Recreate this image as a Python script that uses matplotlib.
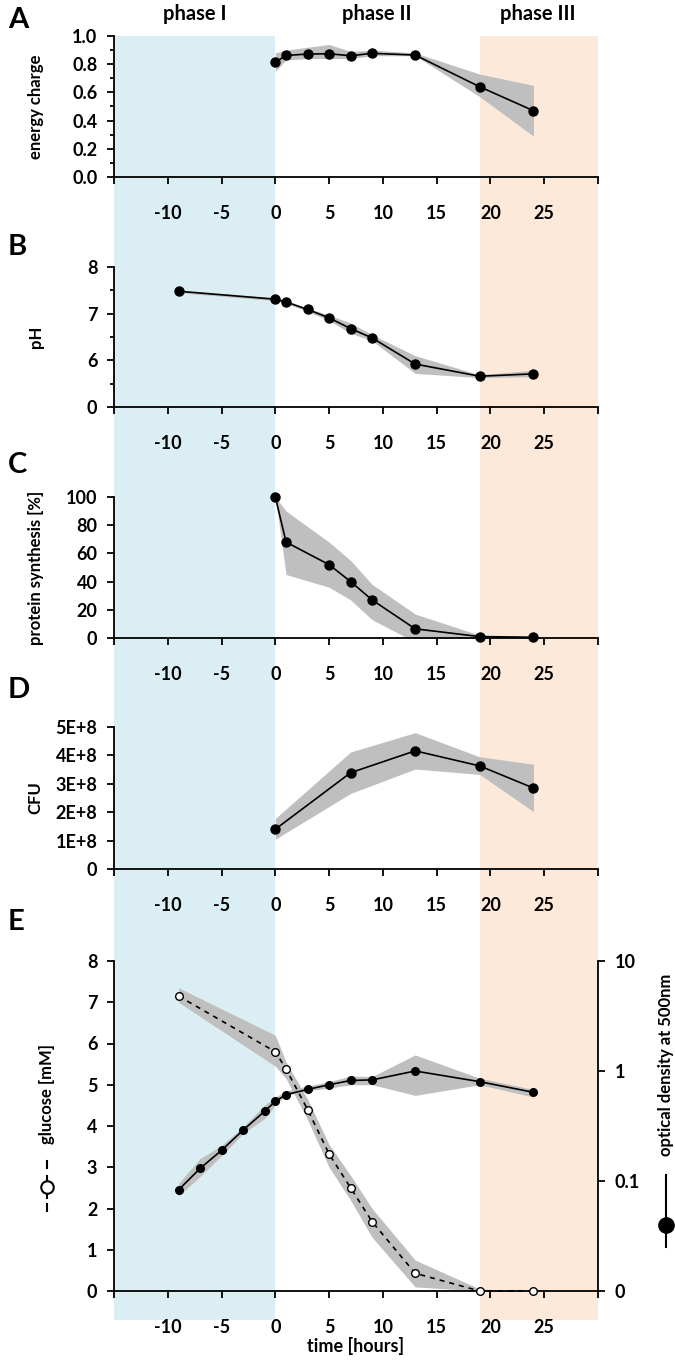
import numpy as np
import matplotlib
matplotlib.use("Agg")
import matplotlib.pyplot as plt
from matplotlib.lines import Line2D
from matplotlib.ticker import MultipleLocator, NullLocator

plt.rcParams['font.family'] = ['Lato', 'DejaVu Sans']
plt.rcParams['font.weight'] = 'bold'

# A: energy charge
t_ec = [0, 1, 3, 5, 7, 9, 13, 19, 24]
ec = [0.815, 0.862, 0.872, 0.874, 0.860, 0.877, 0.865, 0.640, 0.470]
ec_lo = [0.75, 0.83, 0.84, 0.84, 0.84, 0.86, 0.86, 0.57, 0.29]
ec_hi = [0.88, 0.90, 0.92, 0.94, 0.89, 0.90, 0.88, 0.73, 0.65]

# B: pH
t_ph = [-9, 0, 1, 3, 5, 7, 9, 13, 19, 24]
ph = [7.48, 7.31, 7.25, 7.09, 6.91, 6.68, 6.48, 5.92, 5.66, 5.71]
ph_lo = [7.45, 7.28, 7.22, 7.05, 6.85, 6.58, 6.42, 5.72, 5.63, 5.65]
ph_hi = [7.51, 7.34, 7.28, 7.12, 6.97, 6.80, 6.55, 6.10, 5.69, 5.79]

# C: protein synthesis
t_ps = [0, 1, 5, 7, 9, 13, 19, 24]
ps = [100, 68, 52, 40, 27, 6.5, 1, 0.5]
ps_lo = [100, 45, 36, 27, 13, -3, 0, 0]
ps_hi = [100, 90, 68, 55, 38, 17, 2, 1.5]

# D: CFU
t_cfu = [0, 7, 13, 19, 24]
cfu = [1.40e8, 3.39e8, 4.16e8, 3.63e8, 2.85e8]
cfu_lo = [1.05e8, 2.66e8, 3.52e8, 3.33e8, 2.02e8]
cfu_hi = [1.78e8, 4.12e8, 4.80e8, 3.95e8, 3.69e8]

# E: glucose (left axis) and optical density (right, log)
t_glc = [-9, 0, 1, 3, 5, 7, 9, 13, 19, 24]
glc = [7.15, 5.80, 5.38, 4.40, 3.32, 2.50, 1.68, 0.43, 0.0, 0.0]
glc_lo = [7.00, 5.45, 5.15, 4.15, 3.00, 2.20, 1.30, 0.10, 0.0, 0.0]
glc_hi = [7.35, 6.20, 5.55, 4.65, 3.55, 2.80, 2.00, 0.75, 0.05, 0.0]

t_od = [-9, -7, -5, -3, -1, 0, 1, 3, 5, 7, 9, 13, 19, 24]
od = [0.083, 0.13, 0.19, 0.29, 0.43, 0.53, 0.61, 0.68, 0.75, 0.82, 0.83, 1.0, 0.80, 0.64]
od_lo = [0.073, 0.11, 0.17, 0.27, 0.37, 0.49, 0.60, 0.66, 0.70, 0.75, 0.75, 0.60, 0.75, 0.58]
od_hi = [0.095, 0.16, 0.21, 0.31, 0.49, 0.58, 0.66, 0.73, 0.80, 0.90, 0.89, 1.40, 0.86, 0.68]

xticks = list(range(-15, 31, 5))
xticklabels = ['' if v in (-15, 30) else str(v) for v in xticks]

W, H = 675.0, 1360.0
L, WD = 114 / W, 484 / W
GRAY = '#BFBFBF'
TICK_FS = 13
LABEL_FS = 12


def rect(top, bot):
    return [L, 1 - bot / H, WD, (bot - top) / H]


def setup(ax, label):
    ax.set_xlim(-15, 30)
    ax.patch.set_alpha(0)
    ax.spines['top'].set_visible(False)
    ax.spines['right'].set_visible(False)
    for s in ['left', 'bottom']:
        ax.spines[s].set_linewidth(1.3)
    ax.set_xticks(xticks)
    ax.set_xticklabels(xticklabels)
    ax.tick_params(axis='x', direction='out', length=5, width=1.3, pad=15, labelsize=TICK_FS)
    ax.tick_params(axis='y', which='both', direction='out', width=1.3, pad=7, labelsize=TICK_FS)
    ax.tick_params(axis='y', which='major', length=5)
    ax.tick_params(axis='y', which='minor', length=3)
    ax.set_ylabel(label, fontsize=LABEL_FS, fontweight='bold')
    ax.yaxis.set_label_coords(-0.145, 0.5)


def series(ax, t, y, lo, hi, ms=6.5):
    ax.fill_between(t, lo, hi, color=GRAY, lw=0, zorder=1)
    ax.plot(t, y, color='black', lw=1.2, marker='o', ms=ms, zorder=3, clip_on=False)


fig = plt.figure(figsize=(6.75, 13.6), dpi=100)

# phase shading behind all panels
bg = fig.add_axes(rect(36, 1320))
bg.set_xlim(-15, 30)
bg.axvspan(-15, 0, color='#DAEEF3', lw=0)
bg.axvspan(19, 30, color='#FDE9D9', lw=0)
bg.axis('off')

fig.text(195 / W, 1 - 14 / H, 'phase I', ha='center', va='center', fontsize=14.5)
fig.text(377 / W, 1 - 14 / H, 'phase II', ha='center', va='center', fontsize=14.5)
fig.text(538 / W, 1 - 14 / H, 'phase III', ha='center', va='center', fontsize=14.5)

# A
axA = fig.add_axes(rect(36, 177))
setup(axA, 'energy charge')
series(axA, t_ec, ec, ec_lo, ec_hi)
axA.set_ylim(0, 1.0)
axA.set_yticks(np.arange(0, 1.01, 0.2))
axA.set_yticklabels(['%.1f' % v for v in np.arange(0, 1.01, 0.2)])
axA.yaxis.set_minor_locator(MultipleLocator(0.1))

# B
axB = fig.add_axes(rect(267, 407))
setup(axB, 'pH')
series(axB, t_ph, ph, ph_lo, ph_hi)
axB.set_ylim(5, 8)
axB.set_yticks([5, 6, 7, 8])
axB.set_yticklabels(['0', '6', '7', '8'])
axB.yaxis.set_minor_locator(MultipleLocator(0.5))

# C
axC = fig.add_axes(rect(497, 638))
setup(axC, 'protein synthesis [%]')
series(axC, t_ps, ps, ps_lo, ps_hi)
axC.set_ylim(0, 100)
axC.set_yticks(range(0, 101, 20))

# D
axD = fig.add_axes(rect(727, 869))
setup(axD, 'CFU')
series(axD, t_cfu, cfu, cfu_lo, cfu_hi)
axD.set_ylim(0, 5e8)
axD.set_yticks([0, 1e8, 2e8, 3e8, 4e8, 5e8])
axD.set_yticklabels(['0', '1E+8', '2E+8', '3E+8', '4E+8', '5E+8'])

# E
axE = fig.add_axes(rect(961, 1291))
setup(axE, '')
axE.set_ylim(0, 8)
axE.set_yticks(range(0, 9))
axE.set_xlabel('time [hours]', fontsize=13, fontweight='bold')
axE.xaxis.set_label_coords(0.5, -0.138)
axE.fill_between(t_glc, glc_lo, glc_hi, color=GRAY, lw=0, zorder=1)

axR = axE.twinx()
axR.patch.set_alpha(0)
axR.set_yscale('log')
axR.set_ylim(0.01, 10)
axR.fill_between(t_od, od_lo, od_hi, color=GRAY, lw=0, zorder=1)
axR.plot(t_od, od, color='black', lw=1.2, marker='o', ms=5.5, zorder=3, clip_on=False)
axR.set_yticks([0.01, 0.1, 1, 10])
axR.set_yticklabels(['0', '0.1', '1', '10'])
axR.yaxis.set_minor_locator(NullLocator())
for s in ['top', 'left', 'bottom']:
    axR.spines[s].set_visible(False)
axR.spines['right'].set_linewidth(1.3)
axR.tick_params(axis='y', direction='out', length=5, width=1.3, pad=7, labelsize=TICK_FS)

# glucose line on a transparent axes above the OD line
axG = fig.add_axes(rect(961, 1291), sharex=axE)
axG.set_ylim(0, 8)
axG.axis('off')
axG.plot(t_glc, glc, color='black', lw=1.2, ls=(0, (3, 3)), marker='o', ms=5.5,
         mfc='white', mec='black', mew=1.0, zorder=3, clip_on=False)

# axis titles of panel E with their symbols
fig.text(47 / W, 1 - 1094 / H, 'glucose [mM]', rotation=90, ha='center', va='center', fontsize=LABEL_FS)
for y0, y1 in [(1161, 1168), (1204, 1211)]:
    fig.add_artist(Line2D([47 / W, 47 / W], [1 - y0 / H, 1 - y1 / H], color='black', lw=1.5,
                          transform=fig.transFigure))
fig.add_artist(Line2D([47 / W, 47 / W], [1 - 1176 / H, 1 - 1198 / H], color='black', lw=1.5,
                      transform=fig.transFigure))
fig.add_artist(Line2D([47 / W], [1 - 1187 / H], color='black', marker='o', ms=9, mfc='white',
                      mew=1.5, transform=fig.transFigure))
fig.text(666 / W, 1 - 1065 / H, 'optical density at 500nm', rotation=90, ha='center', va='center',
         fontsize=LABEL_FS)
fig.add_artist(Line2D([666 / W, 666 / W], [1 - 1175 / H, 1 - 1247 / H], color='black', lw=1.5,
                      transform=fig.transFigure))
fig.add_artist(Line2D([666 / W], [1 - 1225 / H], color='black', marker='o', ms=11,
                      transform=fig.transFigure))

# panel letters
for letter, ypx in zip('ABCDE', [20, 247, 465, 690, 922]):
    fig.text(8 / W, 1 - ypx / H, letter, ha='left', va='center', fontsize=21)

fig.savefig('out.png', dpi=100)
